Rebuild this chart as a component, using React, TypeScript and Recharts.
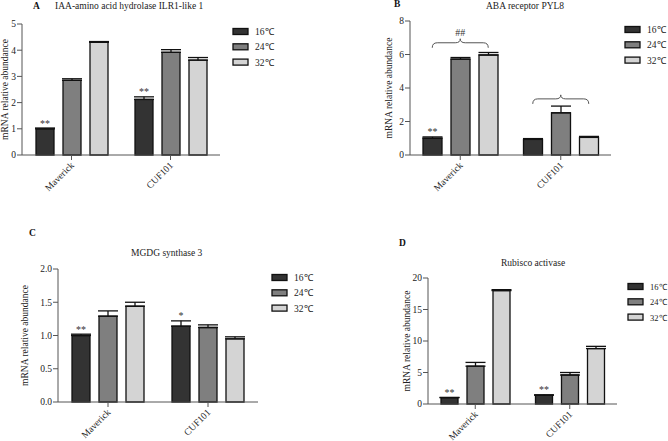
import React from 'react';
import { BarChart, Bar, XAxis, YAxis, ErrorBar, ReferenceDot } from 'recharts';

// ── Data ─────────────────────────────────────────────────────────────────────
const GROUPS = ['Maverick', 'CUF101'];
const TEMPS = ['16℃', '24℃', '32℃'];
const FILLS = ['#333333', '#7f7f7f', '#d4d4d4'];

// means / errors per group: [16℃, 24℃, 32℃]
const iaaMeans = [[1.0, 2.85, 4.3], [2.12, 3.92, 3.62]];
const iaaErrors = [[0.03, 0.06, 0.03], [0.1, 0.1, 0.1]];
const iaaMarks = ['**', '**'];
const iaaTicks = [0, 1, 2, 3, 4, 5];

const abaMeans = [[1.0, 5.72, 5.97], [0.93, 2.52, 1.05]];
const abaErrors = [[0.08, 0.1, 0.15], [0.05, 0.4, 0.06]];
const abaMarks = ['**', ''];
const abaTicks = [0, 2, 4, 6, 8];
const abaBraceLevels = [6.7, 3.35];
const abaBraceMarks = ['##', ''];

const mgdgMeans = [[1.0, 1.29, 1.44], [1.14, 1.12, 0.95]];
const mgdgErrors = [[0.02, 0.08, 0.06], [0.08, 0.04, 0.03]];
const mgdgMarks = ['**', '*'];
const mgdgTicks = [0, 0.5, 1.0, 1.5, 2.0];

const rubMeans = [[1.0, 6.0, 18.0], [1.4, 4.6, 8.8]];
const rubErrors = [[0.05, 0.6, 0.15], [0.05, 0.4, 0.35]];
const rubMarks = ['**', '**'];
const rubTicks = [0, 5, 10, 15, 20];

const FONT = '"Liberation Serif", "Times New Roman", serif';
const AXIS = '#555';

function buildRows(means: number[][], errors: number[][], marks: string[]) {
  return GROUPS.map((g, i) => ({
    group: g,
    t0: means[i][0], t1: means[i][1], t2: means[i][2],
    e0: [0, errors[i][0]], e1: [0, errors[i][1]], e2: [0, errors[i][2]],
    err0: errors[i][0],
    mark: marks[i],
  }));
}

const XTick = ({ x, y, payload }: any) => (
  <text
    x={x + 3}
    y={y + 4}
    transform={`rotate(-45 ${x + 3} ${y + 4})`}
    textAnchor="end"
    fontSize={9.5}
    fontFamily={FONT}
    fill="#222"
  >
    {payload.value}
  </text>
);

function makeMarkLabel(rows: any[]) {
  return (props: any) => {
    const { x, y, width, height, index, value } = props;
    const r = rows[index];
    if (!r || !r.mark) return null;
    const errPx = value ? (height * r.err0) / value : 0;
    return (
      <text x={x + width / 2} y={y - errPx - 1.5} textAnchor="middle" fontSize={10} fontFamily={FONT} fill="#333">
        {r.mark}
      </text>
    );
  };
}

function Brace({ cx, cy, mark }: any) {
  const w = 28;
  const d = `M${cx - w},${cy + 5} Q${cx - w},${cy} ${cx - w + 5},${cy} L${cx - 5},${cy} Q${cx},${cy} ${cx},${cy - 4} Q${cx},${cy} ${cx + 5},${cy} L${cx + w - 5},${cy} Q${cx + w},${cy} ${cx + w},${cy + 5}`;
  return (
    <g>
      <path d={d} fill="none" stroke="#555" strokeWidth={1} />
      {mark ? (
        <text x={cx} y={cy - 7} textAnchor="middle" fontSize={10} fontFamily={FONT} fill="#333">{mark}</text>
      ) : null}
    </g>
  );
}

interface PanelProps {
  letter: string;
  title: string;
  left: number; top: number; width: number; height: number;
  x0: number; x1: number; y0: number; y1: number;
  yw: number;
  barSize: number;
  means: number[][]; errors: number[][]; marks: string[];
  ticks: number[];
  fmt: (v: number) => string;
  letterPos: [number, number];
  titlePos: [number, number];
  legendPos: [number, number];
  legendFont?: number;
  braces?: number[];
  braceMarks?: string[];
}

function Panel(p: PanelProps) {
  const rows = buildRows(p.means, p.errors, p.marks);
  const xh = 30;
  const margin = {
    top: p.y0 - p.top,
    left: p.x0 - p.left - p.yw,
    right: p.left + p.width - p.x1,
    bottom: p.top + p.height - p.y1 - xh,
  };
  const max = p.ticks[p.ticks.length - 1];
  const lf = p.legendFont || 9.5;
  return (
    <>
      <div style={{ position: 'absolute', left: p.left, top: p.top }}>
        <BarChart width={p.width} height={p.height} data={rows} margin={margin} barGap={9} barCategoryGap={0} style={{ overflow: 'visible' }}>
          <XAxis
            dataKey="group"
            height={xh}
            interval={0}
            tick={<XTick />}
            tickSize={5}
            tickLine={{ stroke: AXIS }}
            axisLine={{ stroke: AXIS }}
          />
          <YAxis
            width={p.yw}
            domain={[0, max]}
            ticks={p.ticks}
            tickFormatter={p.fmt}
            tickSize={5}
            tickMargin={1}
            tick={{ fontSize: 9.5, fontFamily: FONT, fill: '#222' }}
            tickLine={{ stroke: AXIS }}
            axisLine={{ stroke: AXIS }}
            label={{
              value: 'mRNA relative abundance',
              angle: -90,
              position: 'insideLeft',
              offset: 3,
              style: { textAnchor: 'middle', fontSize: 9.5, fontFamily: FONT, fill: '#222' },
            }}
          />
          {TEMPS.map((t, k) => (
            <Bar
              key={t}
              dataKey={`t${k}`}
              name={t}
              fill={FILLS[k]}
              stroke="#111"
              strokeWidth={1.3}
              barSize={p.barSize}
              isAnimationActive={false}
              label={k === 0 ? makeMarkLabel(rows) : undefined}
            >
              <ErrorBar dataKey={`e${k}`} width={10} stroke="#111" strokeWidth={1.3} direction="y" />
            </Bar>
          ))}
          {p.braces
            ? p.braces.map((lv, i) => (
                <ReferenceDot
                  key={i}
                  x={GROUPS[i]}
                  y={lv}
                  ifOverflow="visible"
                  shape={(s: any) => <Brace cx={s.cx} cy={s.cy} mark={p.braceMarks ? p.braceMarks[i] : ''} />}
                />
              ))
            : null}
        </BarChart>
      </div>
      <svg style={{ position: 'absolute', left: 0, top: 0, overflow: 'visible', pointerEvents: 'none' }} width={1} height={1}>
        <text x={p.letterPos[0]} y={p.letterPos[1]} fontSize={9.5} fontWeight="bold" fontFamily={FONT} fill="#111">{p.letter}</text>
        <text x={p.titlePos[0]} y={p.titlePos[1]} fontSize={9.5} fontFamily={FONT} fill="#222">{p.title}</text>
        {TEMPS.map((t, k) => (
          <g key={t}>
            <rect x={p.legendPos[0]} y={p.legendPos[1] + k * 15.3 - 3} width={15} height={6} fill={FILLS[k]} stroke="#111" strokeWidth={1.3} />
            <text x={p.legendPos[0] + 22} y={p.legendPos[1] + k * 15.3 + 3.5} fontSize={lf} fontFamily={FONT} fill="#222">{t}</text>
          </g>
        ))}
      </svg>
    </>
  );
}

export default function App() {
  return (
    <div style={{ position: 'absolute', left: 0, top: 0, width: 668, height: 441, background: '#fff', overflow: 'hidden' }}>
      <Panel
        letter="A" title="IAA-amino acid hydrolase ILR1-like 1"
        left={0} top={0} width={334} height={220}
        x0={22} x1={220} y0={24} y1={155} yw={20} barSize={18}
        means={iaaMeans} errors={iaaErrors} marks={iaaMarks}
        ticks={iaaTicks} fmt={(v) => String(v)}
        letterPos={[33, 9]} titlePos={[55, 9]} legendPos={[233, 31.5]}
      />
      <Panel
        letter="B" title="ABA  receptor PYL8"
        left={334} top={0} width={334} height={220}
        x0={410} x1={611} y0={21} y1={155} yw={24} barSize={19}
        means={abaMeans} errors={abaErrors} marks={abaMarks}
        ticks={abaTicks} fmt={(v) => String(v)}
        letterPos={[394, 7]} titlePos={[486, 9]} legendPos={[625, 29.5]}
        braces={abaBraceLevels} braceMarks={abaBraceMarks}
      />
      <Panel
        letter="C" title="MGDG synthase 3"
        left={0} top={220} width={334} height={221}
        x0={58} x1={258} y0={269} y1={402} yw={36} barSize={18}
        means={mgdgMeans} errors={mgdgErrors} marks={mgdgMarks}
        ticks={mgdgTicks} fmt={(v) => v.toFixed(1)}
        letterPos={[29, 236]} titlePos={[131, 256]} legendPos={[272, 277.5]}
      />
      <Panel
        letter="D" title="Rubisco activase"
        left={334} top={220} width={334} height={221}
        x0={428} x1={617} y0={278} y1={404} yw={24} barSize={17}
        means={rubMeans} errors={rubErrors} marks={rubMarks}
        ticks={rubTicks} fmt={(v) => String(v)}
        letterPos={[399, 246]} titlePos={[501, 266]} legendPos={[628, 286.5]} legendFont={8.5}
      />
    </div>
  );
}
